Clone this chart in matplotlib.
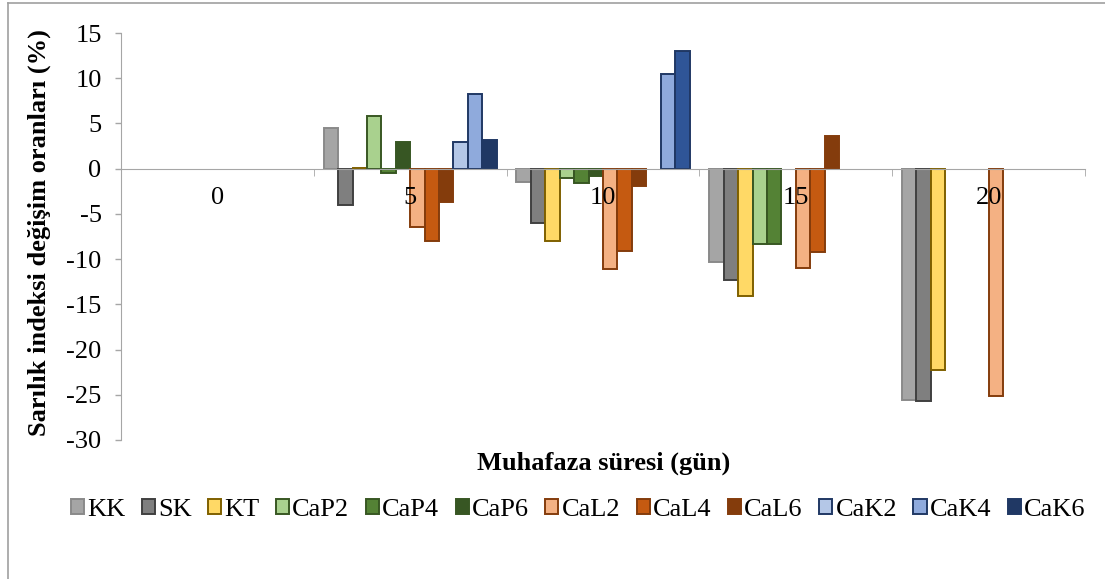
import matplotlib
matplotlib.use("Agg")
import matplotlib.pyplot as plt
import numpy as np
from matplotlib.lines import Line2D

categories = ["0", "5", "10", "15", "20"]
series = ["KK", "SK", "KT", "CaP2", "CaP4", "CaP6", "CaL2", "CaL4", "CaL6", "CaK2", "CaK4", "CaK6"]
KK   = [0, 4.5, -1.5, -10.3, -25.55]
SK   = [0, -4.0, -6.0, -12.3, -25.7]
KT   = [0, 0.1, -8.0, -14.1, -22.3]
CaP2 = [0, 5.8, -1.0, -8.3, 0]
CaP4 = [0, -0.5, -1.6, -8.3, 0]
CaP6 = [0, 3.0, -0.8, 0, 0]
CaL2 = [0, -6.4, -11.1, -11.0, -25.1]
CaL4 = [0, -8.0, -9.1, -9.25, 0]
CaL6 = [0, -3.7, -1.95, 3.65, 0]
CaK2 = [0, 2.95, 0, 0, 0]
CaK4 = [0, 8.25, 10.5, 0, 0]
CaK6 = [0, 3.2, 13.05, 0, 0]
values = [KK, SK, KT, CaP2, CaP4, CaP6, CaL2, CaL4, CaL6, CaK2, CaK4, CaK6]
yticks = [15, 10, 5, 0, -5, -10, -15, -20, -25, -30]

fills = ["#A5A5A5", "#7F7F7F", "#FFD966", "#A9D18E", "#548235", "#375623",
         "#F4B183", "#C55A11", "#843C0C", "#B4C7E7", "#8FAADC", "#203864"]
edges = ["#8A8A8A", "#404040", "#7F6000", "#385723", "#385723", "#375623",
         "#843C0C", "#843C0C", "#843C0C", "#203864", "#203864", "#203864"]

plt.rcParams['font.family'] = ['Liberation Serif', 'DejaVu Serif']

W, H = 1105, 579
fig = plt.figure(figsize=(W/100, H/100), dpi=100)
ax = fig.add_axes([121/W, 1-440/H, (1085-121)/W, 407/H])

x = np.arange(len(categories))
n = len(series)
bw = 0.0748
containers = []
for i, (name, vals) in enumerate(zip(series, values)):
    fc = [fills[i]] * len(vals)
    if name == "CaK6":
        fc[2] = "#2F5597"
    bars = ax.bar(x + (i - (n-1)/2) * bw, vals, bw, color=fc, edgecolor=edges[i],
                  linewidth=1.4, label=name, zorder=2)
    containers.append((bars, vals))

ax.set_xlim(-0.5, len(categories)-0.5)
ax.set_ylim(-30, 15)
ax.set_yticks(yticks)
ax.set_yticklabels([str(t) for t in yticks], fontsize=19)
ax.tick_params(axis='y', direction='out', length=4, color='#A6A6A6', width=1, pad=10)

ax.spines['top'].set_visible(False)
ax.spines['right'].set_visible(False)
ax.spines['bottom'].set_position(('data', 0))
ax.spines['bottom'].set_color('#A6A6A6')
ax.spines['left'].set_color('#A6A6A6')
ax.spines['bottom'].set_zorder(4)
ax.xaxis.set_zorder(5)

ax.set_xticks(x)
ax.set_xticklabels(categories, fontsize=19)
ax.set_xticks(np.arange(-0.5, len(categories), 1.0), minor=True)
ax.tick_params(axis='x', which='major', length=0, pad=13)
ax.tick_params(axis='x', which='minor', length=5, color='#A6A6A6', direction='out')

fig.text(39/W, 1-233/H, "Sarılık indeksi değişim oranları (%)", rotation=90,
         ha='center', va='center', fontsize=19, fontweight='bold')
fig.text(604/W, 1-463/H, "Muhafaza süresi (gün)", ha='center', va='center',
         fontsize=19, fontweight='bold')

handles, labels = ax.get_legend_handles_labels()
leg = fig.legend(handles, labels, loc='center', bbox_to_anchor=(578/W, 1-510/H),
                 ncol=12, frameon=False, fontsize=19, handlelength=0.5, handleheight=0.5,
                 handletextpad=0.12, columnspacing=0.62, borderaxespad=0)

# hide outlines of zero-height bars (after legend so legend keys keep their edges)
for bars, vals in containers:
    for b, v in zip(bars, vals):
        if v == 0:
            b.set_linewidth(0)

fig.add_artist(Line2D([8/W, 1], [1-3/H, 1-3/H], color='#A0A0A0', lw=1.2, transform=fig.transFigure))
fig.add_artist(Line2D([8/W, 8/W], [0, 1-3/H], color='#A0A0A0', lw=1.2, transform=fig.transFigure))

fig.savefig("out.png", dpi=100)
